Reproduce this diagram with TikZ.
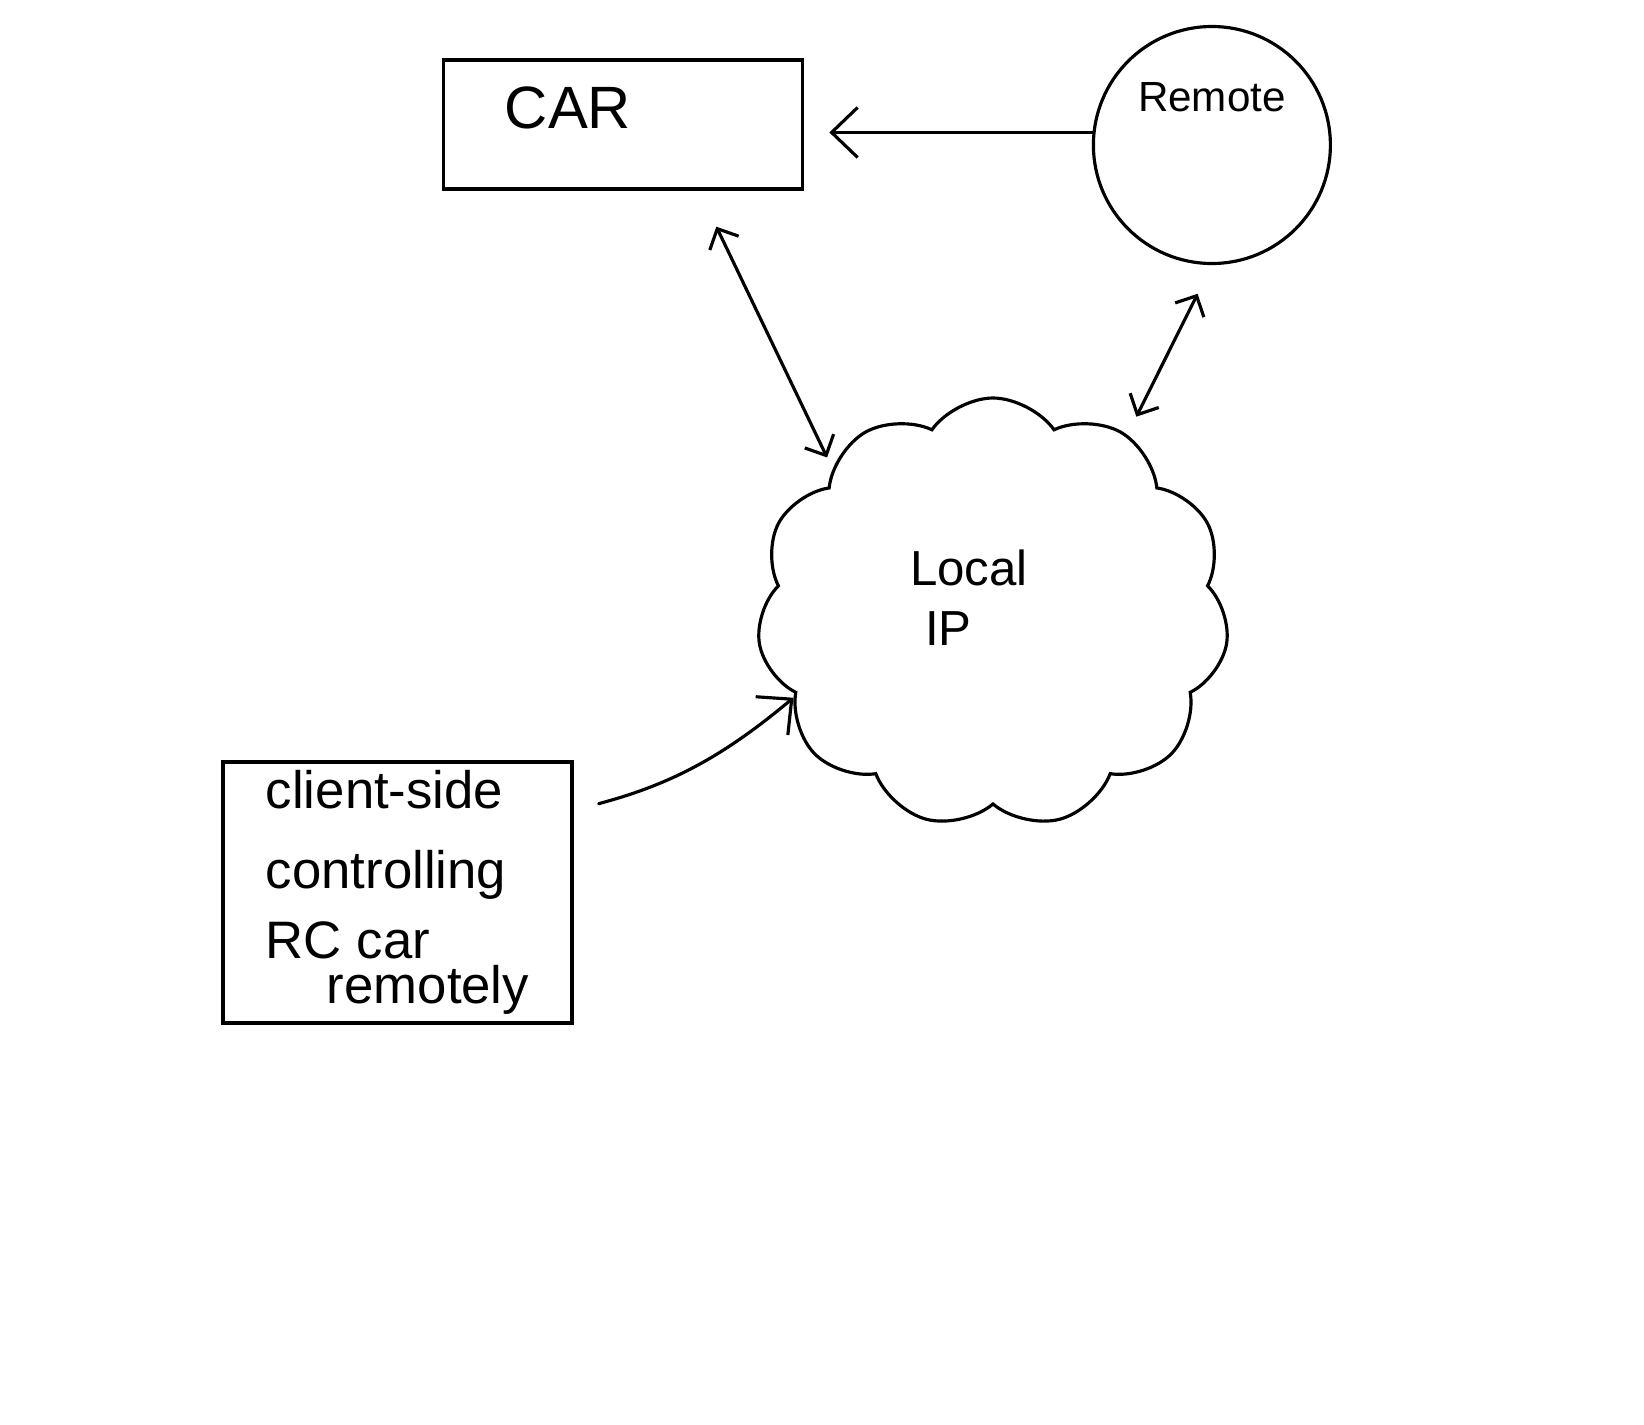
\documentclass[tikz,border=0pt]{standalone}
\usepackage{fontspec}
\setmainfont{Liberation Sans}
\usetikzlibrary{arrows.meta,positioning,shapes.symbols}
\tikzset{
  sketch/.style={draw=black,line width=0.9pt,inner sep=0pt},
  rcbox/.style={sketch,rectangle},
  remotebox/.style={sketch,circle,minimum size=2.37cm},
  netcloud/.style={sketch,cloud,cloud puffs=11,cloud puff arc=110,minimum width=4.72cm,minimum height=4.3cm},
  hand/.style={inner sep=0pt,align=left},
  ar/.style={-{Straight Barb[length=2.6mm,width=5mm]},line width=0.9pt,line cap=round},
  dar/.style={{Straight Barb[length=1.6mm,width=3.2mm]}-{Straight Barb[length=1.6mm,width=3.2mm]},line width=0.9pt,line cap=round},
}
\begin{document}
\begin{tikzpicture}
  \useasboundingbox (0,0) rectangle (16.44,-14.25);
  % boxes
  \node[rcbox,minimum width=3.595cm,minimum height=1.29cm] (car) at (6.23,-1.245) {};
  \node[remotebox,right=2.875cm of car,yshift=-2.05mm] (remote) {};
  \node[netcloud] (lan) at (9.93,-6.13) {};
  \node[rcbox,minimum width=3.49cm,minimum height=2.61cm,align=left,font=\fontsize{15}{18}\selectfont] (client) at (3.975,-8.925)
    {client-side\\[4.8pt]controlling\\[1.9pt]RC car\\[-5.2pt]\hspace*{6.1mm}remotely};
  % texts
  \node[hand,font=\fontsize{17}{20}\selectfont,xshift=-5.5mm,yshift=1.65mm] (cartext) at (car) {CAR};
  \node[hand,font=\fontsize{12}{14}\selectfont,yshift=4.75mm] (remotetext) at (remote) {Remote};
  \node[hand,font=\fontsize{14}{17}\selectfont,xshift=-2.4mm,yshift=1.5mm] (lantext) at (lan) {Local\\\hspace*{1.5mm}IP};
  % links
  \draw[ar,shorten >=2.5mm] (remote.174) -- (remote.174 -| car.east);
  \draw[dar,shorten <=4mm,shorten >=1.2mm] (car.-41.5) -- (lan.138);
  \draw[dar,shorten <=3.2mm,shorten >=2mm] (remote.south) -- (lan.53);
  \draw[ar,shorten <=2.6mm] (client.25.3) to[out=15,in=-140] (lan.203);
\end{tikzpicture}
\end{document}
